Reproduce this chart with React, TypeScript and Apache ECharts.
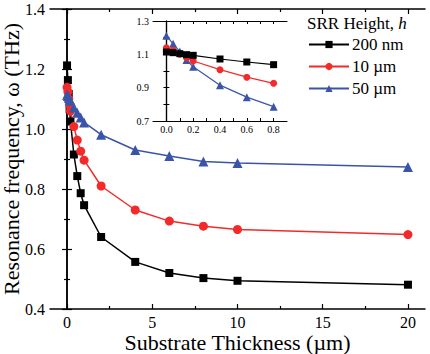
import React, { useEffect, useRef } from "react";
import * as echarts from "echarts";

const thickness = [0, 0.05, 0.1, 0.15, 0.2, 0.4, 0.6, 0.8, 1, 2, 4, 6, 8, 10, 20];
const h200nm = [1.212, 1.163, 1.117, 1.066, 1.025, 0.915, 0.843, 0.786, 0.746, 0.64, 0.557, 0.52, 0.503, 0.494, 0.481];
const h10um = [1.139, 1.124, 1.1, 1.079, 1.06, 1.008, 0.963, 0.926, 0.896, 0.81, 0.73, 0.693, 0.676, 0.665, 0.648];
const h50um = [1.114, 1.11, 1.104, 1.098, 1.094, 1.072, 1.054, 1.038, 1.022, 0.981, 0.93, 0.91, 0.892, 0.887, 0.873];

// inset (first 8 thickness values, colours as drawn in the inset)
const insetThickness = thickness.slice(0, 8);
const insetBlack = h50um.slice(0, 8);
const insetRed = h10um.slice(0, 8);
const insetBlue = h200nm.slice(0, 8);

const mainXTicks = [0, 5, 10, 15, 20];
const mainXMinor = [2.5, 7.5, 12.5, 17.5];
const insetXTicks = [0, 0.1, 0.2, 0.3, 0.4, 0.5, 0.6, 0.7, 0.8];
const insetXLabels = [0, 0.2, 0.4, 0.6, 0.8];
const insetYTicks = [0.8, 0.9, 1.0, 1.1, 1.2];
const insetYLabels = [0.7, 0.9, 1.1, 1.3];

const legendNames = ["200 nm", "10 µm", "50 µm"];

const BLACK = "#000000";
const RED = "#f42a2a";
const BLUE = "#3a55a8";
const FONT = "'Liberation Serif', 'Times New Roman', serif";

const pairs = (xs: number[], ys: number[]) => xs.map((x, i) => [x, ys[i]]);

export default function App() {
  const ref = useRef<HTMLDivElement>(null);
  useEffect(() => {
    if (!ref.current) return;
    const chart = echarts.init(ref.current, null, { renderer: "svg" });
    const axLine = { show: true, lineStyle: { color: BLACK, width: 1.5 } };
    const noLabel = { show: false };
    const fmt1 = (v: number) => v.toFixed(1);
    chart.setOption({
      animation: false,
      backgroundColor: "#ffffff",
      textStyle: { fontFamily: FONT },
      title: {
        text: "SRR Height, {i|h}",
        left: 307,
        top: 15,
        padding: 0,
        textStyle: {
          fontFamily: FONT,
          fontSize: 17,
          fontWeight: "normal",
          color: BLACK,
          rich: { i: { fontFamily: FONT, fontSize: 17, fontStyle: "italic", color: BLACK } },
        },
      },
      legend: {
        data: legendNames,
        orient: "vertical",
        left: 308,
        top: 36,
        padding: 0,
        itemWidth: 40,
        itemHeight: 9,
        itemGap: 5,
        textStyle: { fontFamily: FONT, fontSize: 17, color: BLACK, padding: [0, 0, 0, -2] },
      },
      grid: [
        { left: 50, top: 9, width: 375, height: 300, show: false, outerBoundsMode: "none", containLabel: false },
        { left: 153, top: 21, width: 134, height: 100, show: true, backgroundColor: "#ffffff", borderWidth: 0, outerBoundsMode: "none", containLabel: false },
      ],
      xAxis: [
        {
          gridIndex: 0, type: "value", min: -1, max: 21, position: "bottom",
          axisLine: axLine,
          axisTick: { inside: true, length: 5, customValues: mainXTicks, lineStyle: { color: BLACK, width: 1.2 } },
          axisLabel: { customValues: mainXTicks, fontFamily: FONT, fontSize: 16, color: BLACK, margin: 5 },
          splitLine: { show: false },
          name: "Substrate Thickness (µm)", nameLocation: "middle", nameGap: 22, nameMoveOverlap: false,
          nameTextStyle: { fontFamily: FONT, fontSize: 22, color: BLACK },
        },
        {
          gridIndex: 0, type: "value", min: -1, max: 21, position: "bottom",
          axisLine: { show: false },
          axisTick: { inside: true, length: 3, customValues: mainXMinor, lineStyle: { color: BLACK, width: 1.2 } },
          axisLabel: noLabel, splitLine: { show: false },
        },
        {
          gridIndex: 0, type: "value", min: -1, max: 21, position: "top",
          axisLine: axLine,
          axisTick: { inside: true, length: 5, customValues: mainXTicks, lineStyle: { color: BLACK, width: 1.2 } },
          axisLabel: noLabel, splitLine: { show: false },
        },
        {
          gridIndex: 0, type: "value", min: -1, max: 21, position: "top",
          axisLine: { show: false },
          axisTick: { inside: true, length: 3, customValues: mainXMinor, lineStyle: { color: BLACK, width: 1.2 } },
          axisLabel: noLabel, splitLine: { show: false },
        },
        {
          gridIndex: 1, type: "value", min: -0.1, max: 0.9, position: "bottom",
          axisLine: { show: true, lineStyle: { color: BLACK, width: 1.2 } },
          axisTick: { inside: true, length: 3, customValues: insetXTicks, lineStyle: { color: BLACK, width: 1 } },
          axisLabel: { customValues: insetXLabels, formatter: fmt1, fontFamily: FONT, fontSize: 10, color: BLACK, margin: 3 },
          splitLine: { show: false },
        },
        {
          gridIndex: 1, type: "value", min: -0.1, max: 0.9, position: "top",
          axisLine: { show: true, lineStyle: { color: BLACK, width: 1.2 } },
          axisTick: { inside: true, length: 3, customValues: insetXTicks, lineStyle: { color: BLACK, width: 1 } },
          axisLabel: noLabel, splitLine: { show: false },
        },
      ],
      yAxis: [
        {
          gridIndex: 0, type: "value", min: 0.4, max: 1.4, interval: 0.2, position: "left",
          axisLine: axLine,
          axisTick: { inside: true, length: 5, lineStyle: { color: BLACK, width: 1.2 } },
          minorTick: { show: true, splitNumber: 2, length: 3, lineStyle: { color: BLACK, width: 1.2 } },
          axisLabel: { formatter: fmt1, fontFamily: FONT, fontSize: 16, color: BLACK, margin: 5 },
          splitLine: { show: false },
          name: "Resonance frequency, ω (THz)", nameLocation: "middle", nameGap: 28, nameMoveOverlap: false,
          nameTextStyle: { fontFamily: FONT, fontSize: 22, color: BLACK },
        },
        {
          gridIndex: 0, type: "value", min: 0.4, max: 1.4, interval: 0.2, position: "right",
          axisLine: axLine,
          axisTick: { inside: true, length: 5, lineStyle: { color: BLACK, width: 1.2 } },
          minorTick: { show: true, splitNumber: 2, length: 3, lineStyle: { color: BLACK, width: 1.2 } },
          axisLabel: noLabel, splitLine: { show: false },
        },
        {
          gridIndex: 1, type: "value", min: 0.7, max: 1.3, position: "left",
          axisLine: { show: true, lineStyle: { color: BLACK, width: 1.2 } },
          axisTick: { inside: true, length: 3, customValues: insetYTicks, lineStyle: { color: BLACK, width: 1 } },
          axisLabel: { customValues: insetYLabels, formatter: fmt1, fontFamily: FONT, fontSize: 10, color: BLACK, margin: 4 },
          splitLine: { show: false },
        },
        {
          gridIndex: 1, type: "value", min: 0.7, max: 1.3, position: "right",
          axisLine: { show: true, lineStyle: { color: BLACK, width: 1.2 } },
          axisTick: { inside: true, length: 3, customValues: insetYTicks, lineStyle: { color: BLACK, width: 1 } },
          axisLabel: noLabel, splitLine: { show: false },
        },
      ],
      series: [
        {
          name: "200 nm", type: "line", xAxisIndex: 0, yAxisIndex: 0,
          data: pairs(thickness, h200nm), symbol: "rect", symbolSize: 8,
          lineStyle: { color: BLACK, width: 1.5 }, itemStyle: { color: BLACK },
        },
        {
          name: "10 µm", type: "line", xAxisIndex: 0, yAxisIndex: 0,
          data: pairs(thickness, h10um), symbol: "circle", symbolSize: 9,
          lineStyle: { color: RED, width: 1.5 }, itemStyle: { color: RED },
        },
        {
          name: "50 µm", type: "line", xAxisIndex: 0, yAxisIndex: 0,
          data: pairs(thickness, h50um), symbol: "triangle", symbolSize: 10,
          lineStyle: { color: BLUE, width: 1.5 }, itemStyle: { color: BLUE },
        },
        {
          name: "inset blue", type: "line", xAxisIndex: 4, yAxisIndex: 2,
          data: pairs(insetThickness, insetBlue), symbol: "triangle", symbolSize: 8,
          lineStyle: { color: BLUE, width: 1.2 }, itemStyle: { color: BLUE }, z: 3,
        },
        {
          name: "inset red", type: "line", xAxisIndex: 4, yAxisIndex: 2,
          data: pairs(insetThickness, insetRed), symbol: "circle", symbolSize: 7,
          lineStyle: { color: RED, width: 1.2 }, itemStyle: { color: RED }, z: 4,
        },
        {
          name: "inset black", type: "line", xAxisIndex: 4, yAxisIndex: 2,
          data: pairs(insetThickness, insetBlack), symbol: "rect", symbolSize: 7,
          lineStyle: { color: BLACK, width: 1.2 }, itemStyle: { color: BLACK }, z: 5,
        },
      ],
    });
    return () => chart.dispose();
  }, []);
  return <div ref={ref} style={{ width: 430, height: 354, position: "absolute", left: 0, top: 0 }} />;
}
